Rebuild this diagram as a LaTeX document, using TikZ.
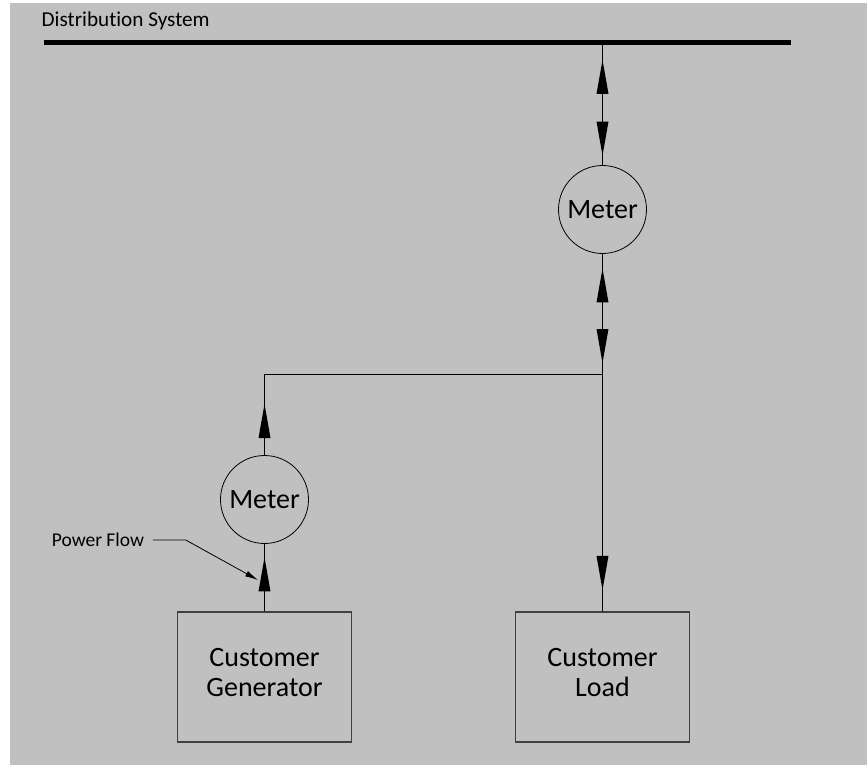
\documentclass[tikz,border=0pt]{standalone}
\usepackage{fontspec}
\setmainfont{Carlito}[Ligatures=NoCommon]
\usetikzlibrary{arrows.meta,calc}
\definecolor{bggray}{HTML}{C0C0C0}
\definecolor{boxedge}{HTML}{404040}
\tikzset{
  meter/.style={circle, draw=black, line width=0.8pt, minimum size=88pt, inner sep=0pt,
    font=\fontsize{28}{30}\selectfont},
  blockbox/.style={rectangle, draw=boxedge, line width=1.2pt, minimum width=174pt, minimum height=130pt, inner sep=0pt},
  blocktext/.style={font=\fontsize{28}{30}\selectfont, align=center, yshift=4.5pt},
  wire/.style={draw=black, line width=0.8pt},
  bus/.style={draw=black, line width=5.5pt},
  leader/.style={draw=black, line width=0.8pt, -{Latex[length=13pt,width=6pt]}},
  pics/uparr/.style={code={\fill[black] (0pt,0pt) -- (-6pt,-34pt) -- (6pt,-34pt) -- cycle;}},
  pics/dnarr/.style={code={\fill[black] (0pt,0pt) -- (-6pt,34pt) -- (6pt,34pt) -- cycle;}},
}
\begin{document}
\begin{tikzpicture}[x=1pt,y=-1pt]
\useasboundingbox (0,0) rectangle (867,765);
\fill[white] (0,0) rectangle (867,765);
\fill[bggray] (10,3) rectangle (867,765);

% title
\node[anchor=base west, inner sep=0pt, font=\fontsize{21.2}{24}\selectfont] (title) at (41.5,26.7) {Distribution System};

% bus
\coordinate (busL) at (43.5,42.3);
\coordinate (busR) at (791,42.3);
\coordinate (busJ) at (602.5,42.3);
\draw[bus] (busL) -- (busR);

% meters
\node[meter] (m1) at (602.5,209.5) {Meter};
\node[meter] (m2) at (264.5,499.5) {Meter};

% junctions
\coordinate (J) at (602.5,374.5);
\coordinate (C) at (264.5,374.5);

% boxes
\node[blockbox, label={[blocktext]center:Customer\\Generator}] (gen) at (264.5,677) {};
\node[blockbox, label={[blocktext]center:Customer\\Load}] (load) at (602.5,677) {};

% wires
\draw[wire] (busJ) -- (m1.north);
\draw[wire] (m1.south) -- (J);
\draw[wire] (J) -- (C) -- (m2.north);
\draw[wire] (m2.south) -- (gen.north);
\draw[wire] (J) -- (load.north);

% arrowheads
\pic at ([yshift=-17.5pt]busJ) {uparr};
\pic at ([yshift=9.5pt]m1.north) {dnarr};
\pic at ([yshift=-14.5pt]m1.south) {uparr};
\pic at ([yshift=11.5pt]J) {dnarr};
\pic at ([yshift=-29.5pt]C) {uparr};
\pic at ([yshift=-13.5pt]m2.south) {uparr};
\pic at ([yshift=21.5pt]load.north) {dnarr};

% power flow label
\node[anchor=base west, inner sep=0pt, font=\fontsize{19.5}{22}\selectfont] (pf) at (51.7,546.7) {Power Flow};
\coordinate (pfB) at ([xshift=41.5pt]pf.east);
\coordinate (pfT) at (258,580);
\draw[leader, shorten <=8.5pt] (pf.east) -- (pfB) -- (pfT);
\end{tikzpicture}
\end{document}
